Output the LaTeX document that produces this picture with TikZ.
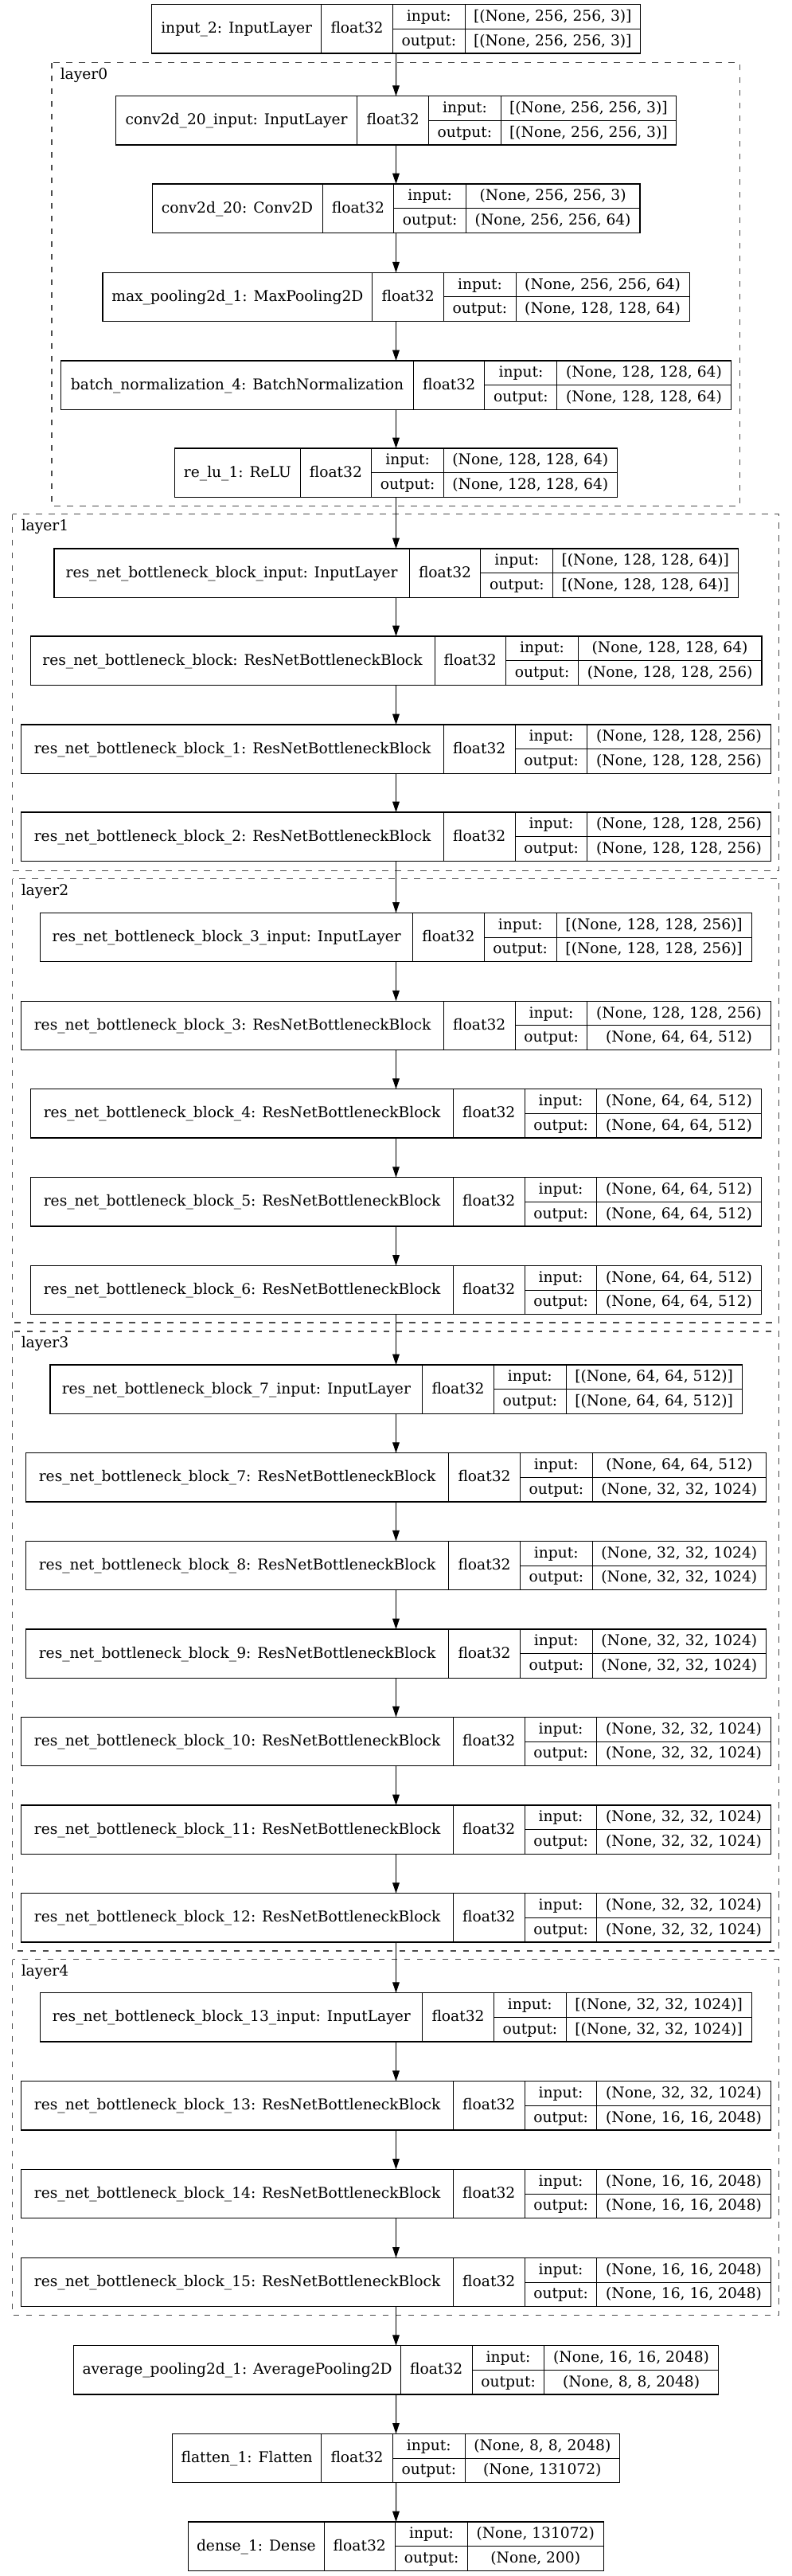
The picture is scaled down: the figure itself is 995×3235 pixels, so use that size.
\documentclass[tikz,border=0pt]{standalone}
\usepackage{fontspec}
\setmainfont{DejaVu Serif}
\usetikzlibrary{arrows.meta}
\tikzset{
  recbox/.style={draw=black, line width=0.9pt, inner sep=0pt, outer sep=0pt, anchor=north west},
  divider/.style={draw=black, line width=0.7pt},
  txt/.style={anchor=base, inner sep=0pt, font=\fontsize{14}{16}\selectfont},
  cluster/.style={draw=black!70, line width=1.1pt, dash pattern=on 5.8pt off 6.2pt},
  clabel/.style={anchor=base west, inner sep=0pt, font=\fontsize{14}{16}\selectfont},
  arr/.style={draw=black, line width=0.75pt, -{Triangle[length=10pt,width=6.5pt]}},
}
% #1 name, #2 top y, #3 left x, #4 first divider x, #5 label, #6 input, #7 output
\newcommand\kbox[7]{%
  \node[recbox, minimum width={(995-2*#3)*0.75pt}, minimum height=45.975pt] (#1) at (#3,#2) {};
  \draw[divider] (#4,#2) -- ++(0,61.3)
    ({#4+89.5},#2) -- ++(0,61.3)
    ({#4+180.3},#2) -- ++(0,61.3)
    ({#4+89.5},{#2+30.65}) -- ({995-#3},{#2+30.65});
  \node[txt] at ({(#3+#4)/2},{#2+36.25}) {#5};
  \node[txt] at ({#4+44.75},{#2+36.25}) {float32};
  \node[txt] at ({#4+135.05},{#2+20.9}) {input:};
  \node[txt] at ({#4+135.05},{#2+51.55}) {output:};
  \node[txt] at ({(#4+180.3+995-#3)/2},{#2+20.9}) {#6};
  \node[txt] at ({(#4+180.3+995-#3)/2},{#2+51.55}) {#7};
}
\begin{document}
\begin{tikzpicture}[x=0.75pt,y=-0.75pt]
\fill[white] (0,0) rectangle (995,3235);
\useasboundingbox (0,0) rectangle (995,3235);

% clusters
\draw[cluster] (65,78.7) rectangle (929.5,635.3);
\node[clabel] (l0) at (75.5,99.5) {layer0};
\draw[cluster] (15.7,645.7) rectangle (978.5,1093.3);
\node[clabel] (l1) at (26.5,666.5) {layer1};
\draw[cluster] (15.7,1103.7) rectangle (978.5,1661);
\node[clabel] (l2) at (26.5,1124.5) {layer2};
\draw[cluster] (15.7,1672) rectangle (978.5,2450);
\node[clabel] (l3) at (26.5,1692.8) {layer3};
\draw[cluster] (15.7,2460.7) rectangle (978.5,2907.7);
\node[clabel] (l4) at (26.5,2481.5) {layer4};

% boxes
\kbox{in2}{5.7}{190.5}{403.8}{input\_2: InputLayer}{[(None, 256, 256, 3)]}{[(None, 256, 256, 3)]}
\kbox{c20in}{120.7}{145.4}{448.9}{conv2d\_20\_input: InputLayer}{[(None, 256, 256, 3)]}{[(None, 256, 256, 3)]}
\kbox{c20}{231}{191.1}{405.1}{conv2d\_20: Conv2D}{(None, 256, 256, 3)}{(None, 256, 256, 64)}
\kbox{mp}{342.3}{128.9}{467.9}{max\_pooling2d\_1: MaxPooling2D}{(None, 256, 256, 64)}{(None, 128, 128, 64)}
\kbox{bn}{453}{76.8}{519.4}{batch\_normalization\_4: BatchNormalization}{(None, 128, 128, 64)}{(None, 128, 128, 64)}
\kbox{relu}{563}{219.7}{377.1}{re\_lu\_1: ReLU}{(None, 128, 128, 64)}{(None, 128, 128, 64)}

\kbox{rbi}{689}{67.9}{514.3}{res\_net\_bottleneck\_block\_input: InputLayer}{[(None, 128, 128, 64)]}{[(None, 128, 128, 64)]}
\kbox{rb0}{799}{38.1}{546}{res\_net\_bottleneck\_block: ResNetBottleneckBlock}{(None, 128, 128, 64)}{(None, 128, 128, 256)}
\kbox{rb1}{910}{26.7}{557.5}{res\_net\_bottleneck\_block\_1: ResNetBottleneckBlock}{(None, 128, 128, 256)}{(None, 128, 128, 256)}
\kbox{rb2}{1020}{26.7}{557.5}{res\_net\_bottleneck\_block\_2: ResNetBottleneckBlock}{(None, 128, 128, 256)}{(None, 128, 128, 256)}

\kbox{rb3i}{1146.4}{50.8}{518.7}{res\_net\_bottleneck\_block\_3\_input: InputLayer}{[(None, 128, 128, 256)]}{[(None, 128, 128, 256)]}
\kbox{rb3}{1257.2}{26.7}{557.5}{res\_net\_bottleneck\_block\_3: ResNetBottleneckBlock}{(None, 128, 128, 256)}{(None, 64, 64, 512)}
\kbox{rb4}{1367.7}{38.7}{569.5}{res\_net\_bottleneck\_block\_4: ResNetBottleneckBlock}{(None, 64, 64, 512)}{(None, 64, 64, 512)}
\kbox{rb5}{1478.6}{38.7}{569.5}{res\_net\_bottleneck\_block\_5: ResNetBottleneckBlock}{(None, 64, 64, 512)}{(None, 64, 64, 512)}
\kbox{rb6}{1589.4}{38.7}{569.5}{res\_net\_bottleneck\_block\_6: ResNetBottleneckBlock}{(None, 64, 64, 512)}{(None, 64, 64, 512)}

\kbox{rb7i}{1714}{62.9}{530.8}{res\_net\_bottleneck\_block\_7\_input: InputLayer}{[(None, 64, 64, 512)]}{[(None, 64, 64, 512)]}
\kbox{rb7}{1824.7}{32.4}{563.8}{res\_net\_bottleneck\_block\_7: ResNetBottleneckBlock}{(None, 64, 64, 512)}{(None, 32, 32, 1024)}
\kbox{rb8}{1935.3}{32.4}{563.8}{res\_net\_bottleneck\_block\_8: ResNetBottleneckBlock}{(None, 32, 32, 1024)}{(None, 32, 32, 1024)}
\kbox{rb9}{2046}{32.4}{563.8}{res\_net\_bottleneck\_block\_9: ResNetBottleneckBlock}{(None, 32, 32, 1024)}{(None, 32, 32, 1024)}
\kbox{rb10}{2156.3}{26.7}{569.5}{res\_net\_bottleneck\_block\_10: ResNetBottleneckBlock}{(None, 32, 32, 1024)}{(None, 32, 32, 1024)}
\kbox{rb11}{2267}{26.7}{569.5}{res\_net\_bottleneck\_block\_11: ResNetBottleneckBlock}{(None, 32, 32, 1024)}{(None, 32, 32, 1024)}
\kbox{rb12}{2377.7}{26.7}{569.5}{res\_net\_bottleneck\_block\_12: ResNetBottleneckBlock}{(None, 32, 32, 1024)}{(None, 32, 32, 1024)}

\kbox{rb13i}{2502.7}{50.8}{530.8}{res\_net\_bottleneck\_block\_13\_input: InputLayer}{[(None, 32, 32, 1024)]}{[(None, 32, 32, 1024)]}
\kbox{rb13}{2613.7}{26.7}{569.5}{res\_net\_bottleneck\_block\_13: ResNetBottleneckBlock}{(None, 32, 32, 1024)}{(None, 16, 16, 2048)}
\kbox{rb14}{2724.3}{26.7}{569.5}{res\_net\_bottleneck\_block\_14: ResNetBottleneckBlock}{(None, 16, 16, 2048)}{(None, 16, 16, 2048)}
\kbox{rb15}{2835.3}{26.7}{569.5}{res\_net\_bottleneck\_block\_15: ResNetBottleneckBlock}{(None, 16, 16, 2048)}{(None, 16, 16, 2048)}

\kbox{avg}{2945.7}{92.7}{503.5}{average\_pooling2d\_1: AveragePooling2D}{(None, 16, 16, 2048)}{(None, 8, 8, 2048)}
\kbox{flat}{3056.3}{216.5}{403.8}{flatten\_1: Flatten}{(None, 8, 8, 2048)}{(None, 131072)}
\kbox{dense}{3167}{236.8}{407}{dense\_1: Dense}{(None, 131072)}{(None, 200)}

% connectors
\foreach \a/\b in {in2/c20in, c20in/c20, c20/mp, mp/bn, bn/relu, relu/rbi,
  rbi/rb0, rb0/rb1, rb1/rb2, rb2/rb3i, rb3i/rb3, rb3/rb4, rb4/rb5, rb5/rb6,
  rb6/rb7i, rb7i/rb7, rb7/rb8, rb8/rb9, rb9/rb10, rb10/rb11, rb11/rb12,
  rb12/rb13i, rb13i/rb13, rb13/rb14, rb14/rb15, rb15/avg, avg/flat, flat/dense}
  \draw[arr] (\a.south) -- (\b.north);
\end{tikzpicture}
\end{document}
